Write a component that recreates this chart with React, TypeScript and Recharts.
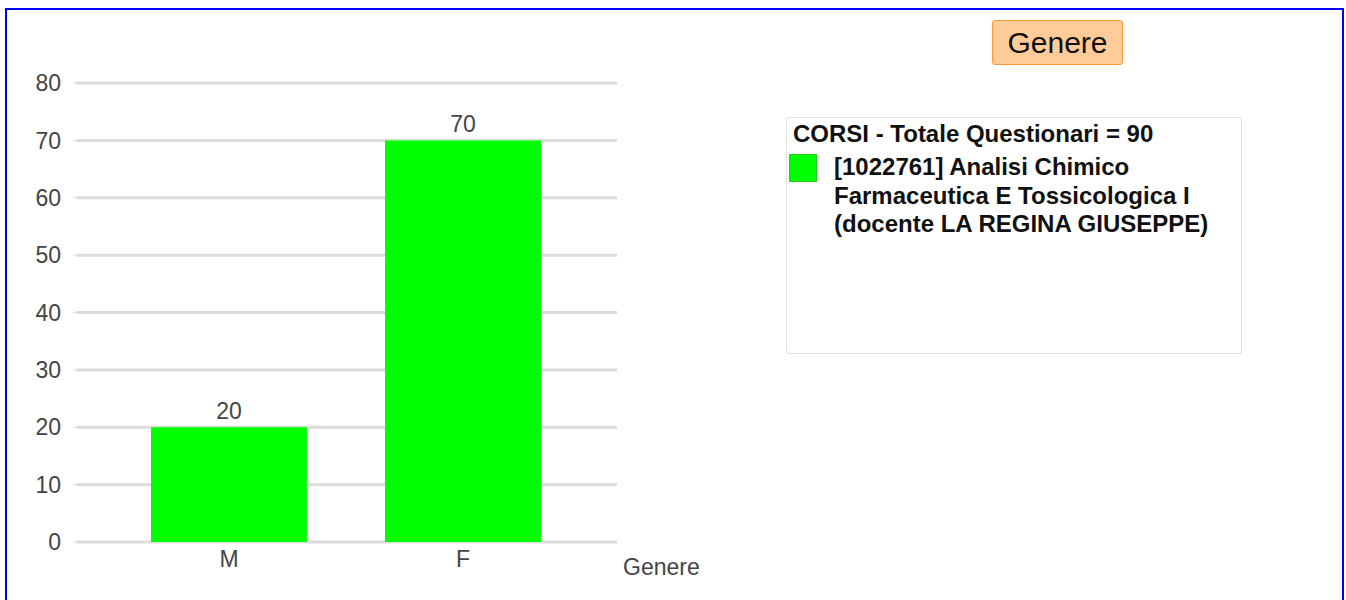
import React from "react";
import { BarChart, Bar, XAxis, YAxis, CartesianGrid, LabelList, Label } from "recharts";

const categories = ["M", "F"];
const values = [20, 70];
const yTicks = [0, 10, 20, 30, 40, 50, 60, 70, 80];
const seriesName = "[1022761] Analisi Chimico Farmaceutica E Tossicologica I (docente LA REGINA GIUSEPPE)";
const legendTitle = "CORSI - Totale Questionari = 90";
const chartTitle = "Genere";
const axisTitle = "Genere";

const data = categories.map((c, i) => ({ name: c, value: values[i] }));
const font = "'Liberation Sans', Arial, sans-serif";

export default function App() {
  return (
    <div style={{ position: "absolute", left: 0, top: 0, width: 1346, height: 600, fontFamily: font, background: "#fff" }}>
      <div style={{ position: "absolute", left: 5, top: 8, width: 1335, height: 620, border: "2px solid #0000ff" }} />
      <div style={{ position: "absolute", left: 0, top: 0 }}>
        <BarChart width={720} height={600} data={data} margin={{ top: 83, left: 16, right: 103, bottom: 28 }}>
          <CartesianGrid vertical={false} stroke="#dcdcdc" strokeWidth={3} />
          <XAxis
            dataKey="name"
            axisLine={false}
            tickLine={false}
            height={30}
            padding={{ left: 36, right: 37 }}
            tick={{ fill: "#444", fontSize: 23, fontFamily: font }}
            tickMargin={3}
          >
            <Label value={axisTitle} position="right" offset={6} dy={10} fill="#444" fontSize={23} fontFamily={font} />
          </XAxis>
          <YAxis
            width={60}
            domain={[0, 80]}
            ticks={yTicks}
            axisLine={false}
            tickLine={{ stroke: "#dcdcdc" }}
            tickSize={3}
            tickMargin={12}
            interval={0}
            tick={{ fill: "#444", fontSize: 23, fontFamily: font }}
          />
          <Bar dataKey="value" fill="#00ff00" barSize={156} isAnimationActive={false}>
            <LabelList dataKey="value" position="top" offset={8} fill="#444" fontSize={23} fontFamily={font} />
          </Bar>
        </BarChart>
      </div>
      <div style={{ position: "absolute", left: 992, top: 20, width: 131, height: 45, boxSizing: "border-box", background: "#ffcc99", border: "1px solid #ff9933", borderRadius: 3, display: "flex", alignItems: "center", justifyContent: "center", fontSize: 30, color: "#111" }}>
        {chartTitle}
      </div>
      <div style={{ position: "absolute", left: 786, top: 117, width: 456, height: 237, boxSizing: "border-box", border: "1px solid #e0e0e0", borderRadius: 3, fontWeight: "bold", fontSize: 24, color: "#111" }}>
        <div style={{ position: "absolute", left: 6, top: 2, lineHeight: "28px", whiteSpace: "nowrap" }}>{legendTitle}</div>
        <div style={{ position: "absolute", left: 2, top: 36, width: 28, height: 28, background: "#00ff00", boxSizing: "border-box", border: "1px solid #22cc22" }} />
        <div style={{ position: "absolute", left: 47, top: 35, width: 405, lineHeight: "28.5px" }}>{seriesName}</div>
      </div>
    </div>
  );
}
